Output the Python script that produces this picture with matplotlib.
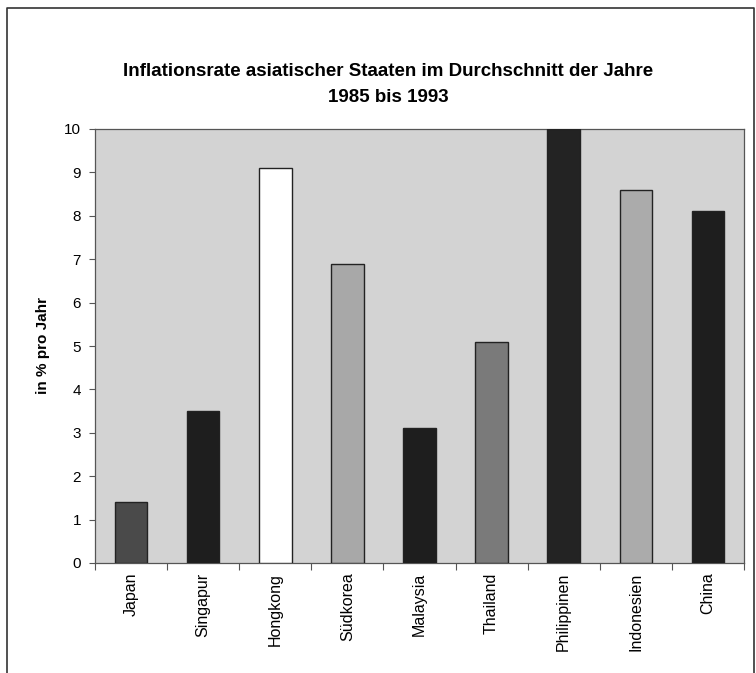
import numpy as np
import matplotlib
matplotlib.use("Agg")
import matplotlib.pyplot as plt
from matplotlib.lines import Line2D

# data
laender = ["Japan", "Singapur", "Hongkong", "Südkorea", "Malaysia",
           "Thailand", "Philippinen", "Indonesien", "China"]
inflation = [1.4, 3.5, 9.1, 6.9, 3.1, 5.1, 10.0, 8.6, 8.1]
farben = ["#4a4a4a", "#1e1e1e", "#ffffff", "#a8a8a8", "#1e1e1e",
          "#7a7a7a", "#232323", "#ababab", "#1e1e1e"]
y_ticks = list(range(0, 11))

plt.rcParams['font.family'] = ['Liberation Sans', 'DejaVu Sans']

fig = plt.figure(figsize=(7.56, 6.73), dpi=100)
W, H = 756, 673
ax = fig.add_axes([95 / W, 1 - 563 / H, (744 - 95) / W, (563 - 129) / H])

x = np.arange(len(laender))
ax.bar(x, inflation, width=0.45, color=farben, edgecolor="#222222", linewidth=1.0, zorder=3)

ax.set_facecolor("#d3d3d3")
ax.set_xlim(-0.5, len(laender) - 0.5)
ax.set_ylim(0, 10)
ax.set_yticks(y_ticks)
ax.set_yticklabels([str(t) for t in y_ticks], fontsize=11)
ax.tick_params(axis='y', direction='out', length=4, width=0.8, color="#555555", pad=6)

ax.set_xticks(x)
ax.set_xticklabels(laender, rotation=90, fontsize=11.5)
ax.tick_params(axis='x', which='major', length=0, pad=7)
ax.set_xticks(np.arange(-0.5, len(laender)), minor=True)
ax.tick_params(axis='x', which='minor', direction='out', length=5, width=0.8, color="#555555")

for s in ax.spines.values():
    s.set_color("#555555")
    s.set_linewidth(0.9)

ax.set_ylabel("in % pro Jahr", fontsize=11, fontweight='bold', labelpad=10)

fig.text(388 / W, 1 - 72 / H, "Inflationsrate asiatischer Staaten im Durchschnitt der Jahre",
         ha='center', va='center', fontsize=13.5, fontweight='bold')
fig.text(388 / W, 1 - 97 / H, "1985 bis 1993",
         ha='center', va='center', fontsize=13.5, fontweight='bold')

# outer frame around the chart
fx = [7 / W, 7 / W, 754 / W, 754 / W]
fy = [0, 1 - 8 / H, 1 - 8 / H, 0]
fig.add_artist(Line2D(fx, fy, transform=fig.transFigure, color="#333333", linewidth=1.2))

plt.savefig("out.png", dpi=100)
